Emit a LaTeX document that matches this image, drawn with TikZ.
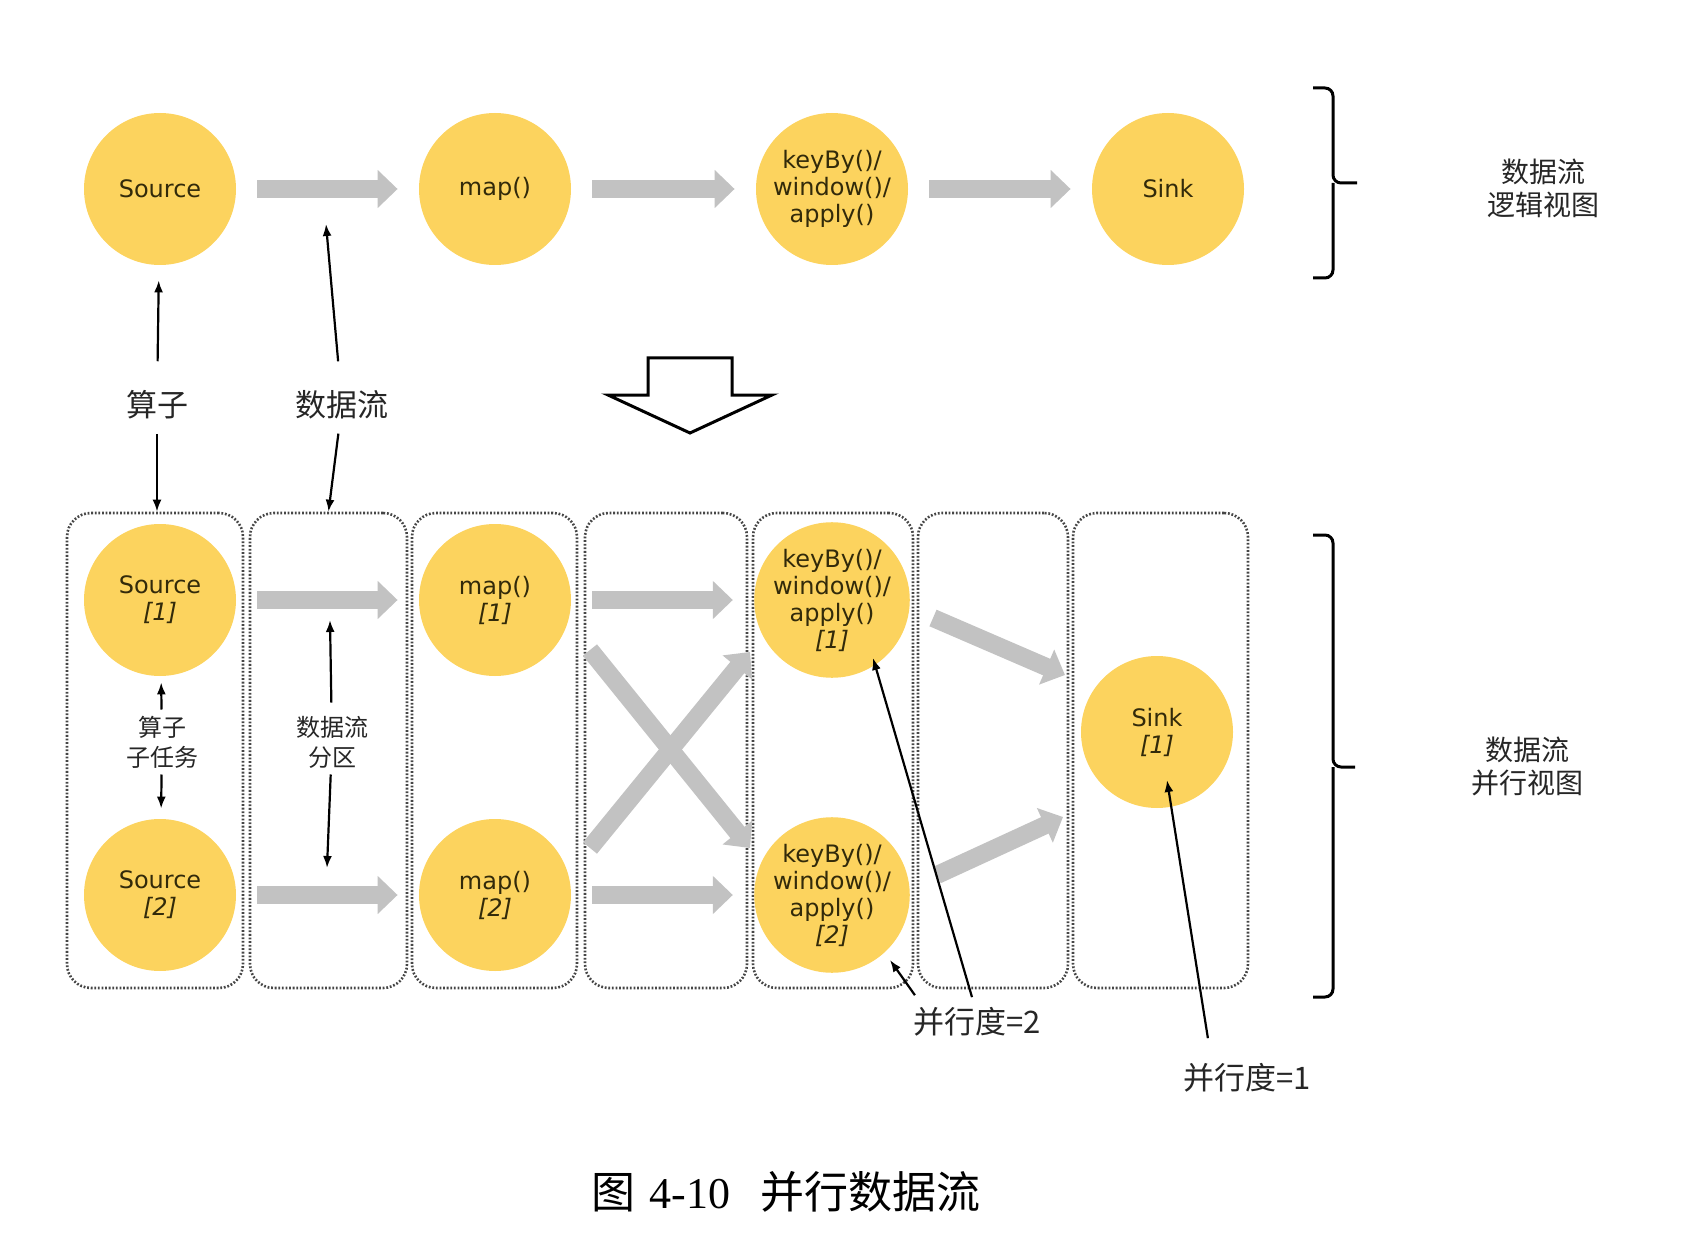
\documentclass[tikz,border=0pt]{standalone}
\usepackage{fontspec}
\usepackage{tikz}
\usetikzlibrary{arrows.meta}
\usetikzlibrary{positioning}
\usetikzlibrary{fit}
\usetikzlibrary{calc}
\newfontfamily\opfont{DejaVu Sans}
\newfontfamily\cjk{Noto Sans CJK SC}
\newfontfamily\capnum{Liberation Serif}
\definecolor{opyellow}{RGB}{252,211,94}
\definecolor{optext}{RGB}{50,42,10}
\definecolor{flowgray}{RGB}{194,194,194}
\definecolor{lanegray}{RGB}{70,70,70}
\tikzstyle{op}=[circle,fill=opyellow,minimum size=76pt,inner sep=0pt,align=center,text=optext,font=\opfont\fontsize{12}{13.5}\selectfont]
\tikzstyle{lane}=[draw=lanegray,line width=1.3pt,dash pattern=on 0.9pt off 0.9pt,rounded corners=12pt,inner sep=0pt]

\begin{document}
\begin{tikzpicture}[
  x=0.5pt, y=-0.5pt,
  flow/.style={draw=flowgray,line width=9pt,-{Triangle[width=18.5pt,length=10pt]}},
  apart/.style={shorten <=10.5pt,shorten >=10.5pt},
  pointer/.style={draw=black,line width=1.1pt,-{Latex[length=6pt,width=4.5pt]}},
  lbl/.style={font=\cjk\fontsize{15.5}{18}\selectfont,inner sep=0pt,text=black!85},
  small lbl/.style={font=\cjk\fontsize{12}{15}\selectfont,inner sep=3pt,align=center,text=black!85},
  side lbl/.style={font=\cjk\fontsize{14}{16.5}\selectfont,inner sep=0pt,align=center,text=black!85},
  brk/.style={line width=1.5pt,rounded corners=4pt},
]
\useasboundingbox (0,0) rectangle (1682,1246);

% logical view
\node[op] (src) at (160,189) {Source};
\node[op] (map) at (495,189) {map()};
\node[op] (kwa) at (832,189) {keyBy()/\\window()/\\apply()};
\node[op] (snk) at (1168,189) {Sink};
\draw[flow,apart] (src) -- (map);
\draw[flow,apart] (map) -- (kwa);
\draw[flow,apart] (kwa) -- (snk);

\draw[brk] (1313,88) -| (1333,183) -- (1357,183);
\draw[brk] (1313,278) -| (1333,183);
\node[side lbl] (lv) at (1543,188) {数据流\\逻辑视图};

% big hollow arrow
\draw[line width=1.5pt,fill=white] (648,358) -- (732,358) -- (732,395) -- (772,395) -- (690,433) -- (608,395) -- (648,395) -- cycle;

% parallel view
\foreach \n/\l/\r in {1/67/243,2/250/407,3/412/577,4/585/747,5/753/913,6/918/1068,7/1073/1248}
  \node[lane,fit={(\l,513) (\r,988)}] (lane\n) {};

\node[op] (s1) at (160,600) {Source\\\textit{[1]}};
\node[op] (s2) at (160,895) {Source\\\textit{[2]}};
\node[op] (m1) at (495,600) {map()\\\textit{[1]}};
\node[op] (m2) at (495,895) {map()\\\textit{[2]}};
\node[op] (k1) at (832,600) {keyBy()/\\window()/\\apply()\\\textit{[1]}};
\node[op] (k2) at (832,895) {keyBy()/\\window()/\\apply()\\\textit{[2]}};
\node[op] (sk) at (1157,732) {Sink\\\textit{[1]}};

\draw[flow,apart] (s1) -- (m1);
\draw[flow,apart] (s2) -- (m2);
\draw[flow,apart] (m1) -- (k1);
\draw[flow,apart] (m2) -- (k2);
% shuffle between map and keyBy
\draw[flow] ([shift={(95,50)}]m1.center) -- ([shift={(-82,-47)}]k2.center);
\draw[flow] ([shift={(95,-47)}]m2.center) -- ([shift={(-82,52)}]k1.center);
% into the sink
\draw[flow] ([shift={(101,18)}]k1.center) -- ([shift={(-92,-57)}]sk.center);
\draw[flow] ([shift={(105,-20)}]k2.center) -- ([shift={(-94,85)}]sk.center);

\draw[brk] (1313,535) -| (1333,767) -- (1355,767);
\draw[brk] (1313,997) -| (1333,767);
\node[side lbl] (pv) at (1527,766) {数据流\\并行视图};

% labels
\node[lbl] (opl) at (157,405) {算子};
\node[lbl] (dfl) at (342,405) {数据流};
\draw[pointer,shorten <=14.5pt,shorten >=7.5pt] (opl) -- (src);
\draw[pointer,shorten <=7pt] (opl) -- (opl |- lane1.north);
\draw[pointer,shorten <=14.5pt] (dfl) -- ([shift={(166,35)}]src.center);
\draw[pointer,shorten <=7pt] (dfl) -- (lane2.north);

\node[small lbl] (subl) at (162,742) {算子\\子任务};
\draw[pointer,shorten >=3pt] (subl) -- (s1);
\draw[pointer,shorten >=5pt] (subl) -- (s2);
\node[small lbl] (dpl) at (332,742) {数据流\\分区};
\draw[pointer,shorten <=3.5pt] (dpl) -- ([shift={(170,20)}]s1.center);
\draw[pointer] (dpl) -- ([shift={(167,-27)}]s2.center);

\node[lbl] (p2) at (977,1022) {并行度=2};
\draw[pointer] ([shift={(2,-12)}]p2.north west) -- ([shift={(58,65)}]k2.center);
\draw[pointer] ([shift={(-5,-10)}]p2.north) -- ([shift={(41,58)}]k1.center);
\node[lbl] (p1) at (1247,1078) {并行度=1};
\draw[pointer] ([shift={(25,-25)}]p1.north west) -- ([shift={(10,48)}]sk.center);

\node[font=\fontsize{22}{26}\selectfont,inner sep=0pt] (cap) at (786,1192) {\cjk 图\hspace{7pt}\capnum 4-10\hspace{15pt}\cjk 并行数据流};
\end{tikzpicture}
\end{document}
